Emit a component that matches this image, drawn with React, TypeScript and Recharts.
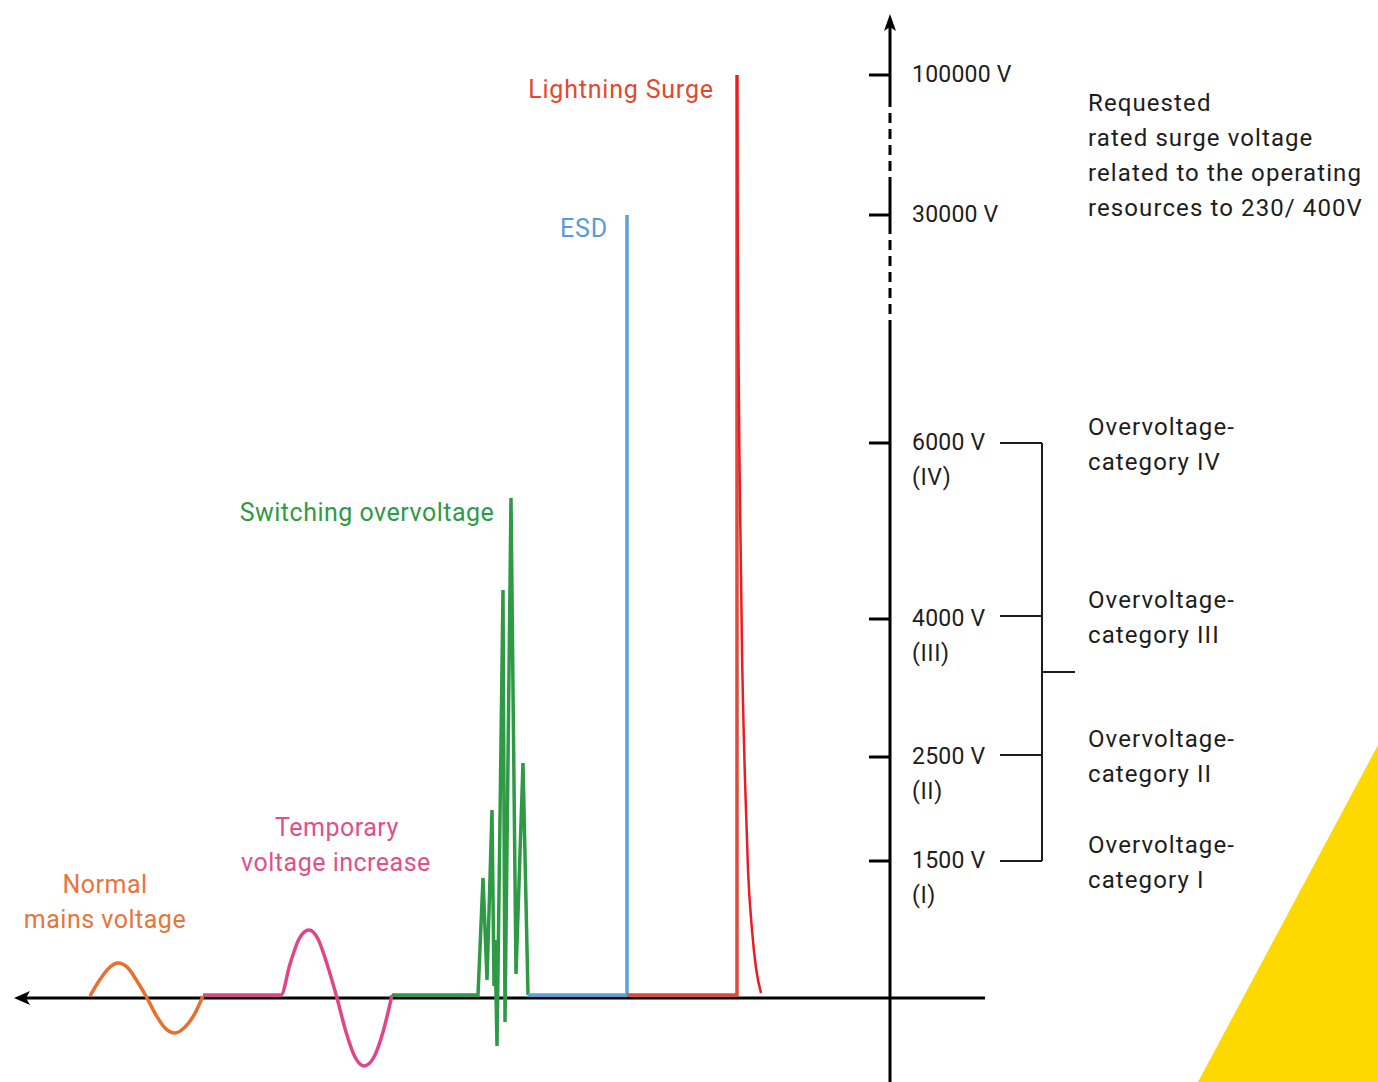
import React from 'react';
import {
  ComposedChart,
  Line,
  Area,
  Scatter,
  XAxis,
  YAxis,
  ReferenceLine,
  ReferenceDot,
} from 'recharts';

// t = time position along the baseline, v = height above the baseline
const normalMains = [
  { t: 90, v: 2 }, { t: 99, v: 17 }, { t: 109, v: 30 }, { t: 118, v: 35 },
  { t: 128, v: 30 }, { t: 137, v: 17 }, { t: 147, v: 0 }, { t: 156, v: -17 },
  { t: 165, v: -30 }, { t: 175, v: -35 }, { t: 184, v: -30 }, { t: 194, v: -17 },
  { t: 203, v: 2 },
];

const temporaryIncrease = [
  { t: 203, v: 3 }, { t: 281, v: 3 }, { t: 290, v: 34 }, { t: 299, v: 59 },
  { t: 309, v: 68 }, { t: 318, v: 59 }, { t: 327, v: 34 }, { t: 337, v: 0 },
  { t: 346, v: -34 }, { t: 355, v: -59 }, { t: 364, v: -68 }, { t: 374, v: -59 },
  { t: 383, v: -34 }, { t: 392, v: 3 },
];

const switching = [
  { t: 392, v: 3 }, { t: 478, v: 3 }, { t: 483, v: 120 }, { t: 487, v: 18 },
  { t: 492, v: 188 }, { t: 494, v: 12 }, { t: 495, v: 58 }, { t: 497, v: -48 },
  { t: 503, v: 408 }, { t: 505, v: -24 }, { t: 511, v: 500 }, { t: 516, v: 24 },
  { t: 523, v: 235 }, { t: 528, v: 3 },
];

const esd = [
  { t: 528, v: 3 }, { t: 627, v: 3 }, { t: 627, v: 783 },
];

const lightningFront = [
  { t: 627, v: 3 }, { t: 737, v: 3 }, { t: 737, v: 923 },
];

const lightningTail = [
  { t: 737, v: 923 }, { t: 738, v: 698 }, { t: 740, v: 498 }, { t: 742, v: 348 },
  { t: 745, v: 218 }, { t: 748, v: 128 }, { t: 752, v: 68 }, { t: 756, v: 30 },
  { t: 761, v: 5 },
];

const tickValues = [923, 783, 555, 379, 241, 137];
const tickLabels = ['100000 V', '30000 V', '6000 V', '4000 V', '2500 V', '1500 V'];
const categoryNumerals = ['', '', '(IV)', '(III)', '(II)', '(I)'];
const categoryNames = ['category IV', 'category III', 'category II', 'category I'];
const requestedLines = [
  'Requested',
  'rated surge voltage',
  'related to the operating',
  'resources to 230/ 400V',
];

const W = 1378;
const H = 1082;
const FONT = 'Roboto, "Noto Sans", sans-serif';
const INK = '#1d1d1b';

const baseline = [{ t: 20, v: 0 }, { t: 985, v: 0 }];
const leftArrow = [{ t: 14, v: 0 }];
const upArrow = [{ t: 890, v: 984 }];
const yellow = [{ t: 1198, v: -84 }, { t: 1378, v: 253 }];

// vertical axis: solid and broken parts
const axisSolid = [
  [{ t: 890, v: -84 }, { t: 890, v: 668 }],
  [{ t: 890, v: 766 }, { t: 890, v: 811 }],
  [{ t: 890, v: 901 }, { t: 890, v: 976 }],
];
const axisBroken = [
  [{ t: 890, v: 668 }, { t: 890, v: 766 }],
  [{ t: 890, v: 811 }, { t: 890, v: 901 }],
];

const note = (
  key: string, t: number, v: number, text: string, fill: string, size: number,
  pos: 'right' | 'center' = 'right', spacing = 0,
) => (
  <ReferenceDot
    key={key}
    x={t}
    y={v}
    r={0}
    fill="none"
    stroke="none"
    ifOverflow="visible"
    label={{ value: text, position: pos, offset: 0, fill, fontSize: size, fontFamily: FONT, letterSpacing: spacing }}
  />
);

const leftArrowShape = (p: any) => (
  <polygon
    points={`${p.cx},${p.cy} ${p.cx + 16},${p.cy - 7} ${p.cx + 12},${p.cy} ${p.cx + 16},${p.cy + 7}`}
    fill="#000"
  />
);

const upArrowShape = (p: any) => (
  <polygon
    points={`${p.cx},${p.cy} ${p.cx + 6},${p.cy + 17} ${p.cx},${p.cy + 13} ${p.cx - 6},${p.cy + 17}`}
    fill="#000"
  />
);

export default function App() {
  const bracketY = [555, 382, 243, 137];
  return (
    <div style={{ position: 'absolute', left: 0, top: 0, background: '#fff' }}>
      <ComposedChart width={W} height={H} margin={{ top: 0, right: 0, bottom: 0, left: 0 }}>
        <XAxis type="number" dataKey="t" domain={[0, W]} hide allowDataOverflow />
        <YAxis type="number" dataKey="v" domain={[-84, 998]} hide allowDataOverflow />

        <Area data={yellow} dataKey="v" type="linear" baseValue={-84} fill="#FDD900" fillOpacity={1} stroke="none" isAnimationActive={false} activeDot={false} />

        <Line data={baseline} dataKey="v" type="linear" stroke="#000" strokeWidth={3} dot={false} activeDot={false} isAnimationActive={false} />
        {axisSolid.map((seg, i) => (
          <Line key={`as${i}`} data={seg} dataKey="v" type="linear" stroke="#000" strokeWidth={3} dot={false} activeDot={false} isAnimationActive={false} />
        ))}
        {axisBroken.map((seg, i) => (
          <Line key={`ab${i}`} data={seg} dataKey="v" type="linear" stroke="#000" strokeWidth={3} strokeDasharray="10 6" dot={false} activeDot={false} isAnimationActive={false} />
        ))}
        <Scatter data={leftArrow} dataKey="v" shape={leftArrowShape} isAnimationActive={false} />
        <Scatter data={upArrow} dataKey="v" shape={upArrowShape} isAnimationActive={false} />

        {tickValues.map((v, i) => (
          <ReferenceLine key={`tk${i}`} segment={[{ x: 869, y: v }, { x: 890, y: v }]} stroke="#000" strokeWidth={3} ifOverflow="visible" />
        ))}

        {bracketY.map((v, i) => (
          <ReferenceLine key={`br${i}`} segment={[{ x: 1000, y: v }, { x: 1042, y: v }]} stroke={INK} strokeWidth={2} ifOverflow="visible" />
        ))}
        <ReferenceLine segment={[{ x: 1042, y: 555 }, { x: 1042, y: 137 }]} stroke={INK} strokeWidth={2} ifOverflow="visible" />
        <ReferenceLine segment={[{ x: 1042, y: 326 }, { x: 1075, y: 326 }]} stroke={INK} strokeWidth={2} ifOverflow="visible" />

        <Line data={normalMains} dataKey="v" type="monotone" stroke="#E8702F" strokeWidth={3.5} dot={false} activeDot={false} isAnimationActive={false} />
        <Line data={temporaryIncrease} dataKey="v" type="monotone" stroke="#E0448A" strokeWidth={3.5} dot={false} activeDot={false} isAnimationActive={false} />
        <Line data={switching} dataKey="v" type="linear" stroke="#2F9A45" strokeWidth={3.5} dot={false} activeDot={false} isAnimationActive={false} />
        <Line data={esd} dataKey="v" type="linear" stroke="#5AA3DA" strokeWidth={3.5} dot={false} activeDot={false} isAnimationActive={false} />
        <Line data={lightningFront} dataKey="v" type="linear" stroke="#E04A3A" strokeWidth={3.5} dot={false} activeDot={false} isAnimationActive={false} />
        <Line data={lightningTail} dataKey="v" type="monotone" stroke="#EC1C24" strokeWidth={2.5} dot={false} activeDot={false} isAnimationActive={false} />

        {note('ls', 621, 909, 'Lightning Surge', '#E2492F', 25, 'center', 0.8)}
        {note('esd', 584, 770, 'ESD', '#5A9BD5', 25, 'center', 0.8)}
        {note('sw', 367, 486, 'Switching overvoltage', '#2F9A45', 25, 'center', 0.5)}
        {note('tp1', 337, 171, 'Temporary', '#E0508A', 25, 'center', 0.5)}
        {note('tp2', 336, 136, 'voltage increase', '#E0508A', 25, 'center', 0.5)}
        {note('nm1', 105, 114, 'Normal', '#E8743B', 25, 'center', 0.5)}
        {note('nm2', 105, 79, 'mains voltage', '#E8743B', 25, 'center', 0.5)}

        {tickLabels.map((s, i) => note(`tl${i}`, 912, tickValues[i] + 1, s, INK, 23, 'right', 0.2))}
        {categoryNumerals.map((s, i) => (s ? note(`cn${i}`, 912, tickValues[i] - 34, s, INK, 23, 'right', 0.6) : null))}

        {requestedLines.map((s, i) => note(`rq${i}`, 1088, 896 - i * 35, s, INK, 24, 'right', 1.1))}
        {categoryNames.map((s, i) => note(`ov${i}`, 1088, bracketY[i] + 17, 'Overvoltage-', INK, 24, 'right', 1.1))}
        {categoryNames.map((s, i) => note(`ct${i}`, 1088, bracketY[i] - 18, s, INK, 24, 'right', 1.1))}
      </ComposedChart>
    </div>
  );
}
